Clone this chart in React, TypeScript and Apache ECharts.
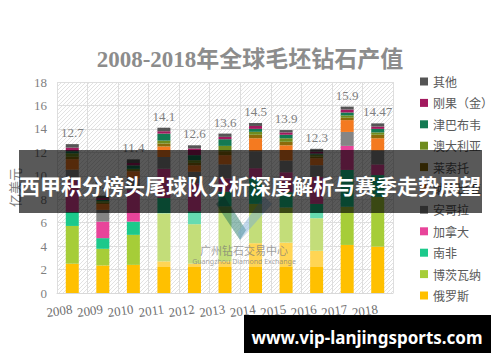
import React, { useEffect, useRef } from "react";
import * as echarts from "echarts";

const years = ["2008", "2009", "2010", "2011", "2012", "2013", "2014", "2015", "2016", "2017", "2018"];
const totals = ["12.7", "8.3", "11.4", "14.1", "12.6", "13.6", "14.5", "13.9", "12.3", "15.9", "14.47"];

const russia = [2.5, 2.35, 2.4, 2.7, 2.5, 2.7, 4.25, 4.3, 3.6, 4.1, 3.96];
const botswana = [3.22, 1.42, 2.56, 4.1, 3.37, 4.7, 3.35, 3.0, 2.78, 3.26, 4.24];
const southAfrica = [1.2, 0.91, 1.13, 1.3, 1.1, 1.24, 2.2, 1.3, 1.22, 3.14, 1.86];
const canada = [2.7, 1.41, 2.7, 2.5, 2.38, 1.14, 0.85, 1.7, 2.3, 2.05, 0.91];
const angola = [0.9, 1.0, 1.0, 1.0, 0.99, 1.19, 1.45, 1.0, 1.0, 1.19, 1.18];
const namibia = [0.9, 0.5, 0.6, 0.9, 0.56, 0.79, 1.1, 1.3, 0.6, 1.01, 1.05];
const lesotho = [0.2, 0.1, 0.1, 0.25, 0.2, 0.34, 0.3, 0.3, 0.15, 0.2, 0.3];
const australia = [0.3, 0.15, 0.1, 0.25, 0.23, 0.45, 0.25, 0.3, 0.15, 0.2, 0.2];
const zimbabwe = [0.18, 0.1, 0.3, 0.6, 0.43, 0.57, 0.25, 0.3, 0.1, 0.25, 0.3];
const drc = [0.3, 0.16, 0.2, 0.2, 0.57, 0.2, 0.25, 0.2, 0.15, 0.25, 0.2];
const other = [0.3, 0.2, 0.31, 0.3, 0.27, 0.28, 0.25, 0.2, 0.25, 0.25, 0.27];

const yTicks = { min: 0, max: 18, interval: 2 };

const seriesDefs = [
  { name: "俄罗斯", data: russia, color: "#FFC000" },
  { name: "博茨瓦纳", data: botswana, color: "#A6CD38" },
  { name: "南非", data: southAfrica, color: "#1CC98B" },
  { name: "加拿大", data: canada, color: "#E8449A" },
  { name: "安哥拉", data: angola, color: "#858585" },
  { name: "纳米比亚", data: namibia, color: "#F47A20" },
  { name: "莱索托", data: lesotho, color: "#8B6B0A" },
  { name: "澳大利亚", data: australia, color: "#6F8C1E" },
  { name: "津巴布韦", data: zimbabwe, color: "#137A52" },
  { name: "刚果（金）", data: drc, color: "#A2195E" },
  { name: "其他", data: other, color: "#555555" },
];

const title = "2008-2018年全球毛坯钻石产值";
const bannerText = "西甲积分榜头尾球队分析深度解析与赛季走势展望";
const footerText = "www.vip-lanjingsports.com";
const yName = "亿美元";

export default function App() {
  const ref = useRef<HTMLDivElement>(null);
  useEffect(() => {
    if (!ref.current) return;
    const chart = echarts.init(ref.current, null, { renderer: "svg" });

    const cv = document.createElement("canvas");
    cv.width = 4;
    cv.height = 4;
    const ctx = cv.getContext("2d");
    if (ctx) {
      ctx.fillStyle = "#ffffff";
      ctx.fillRect(0, 0, 4, 4);
      ctx.strokeStyle = "#e2e2e2";
      ctx.lineWidth = 1;
      ctx.beginPath();
      ctx.moveTo(0, 4);
      ctx.lineTo(4, 0);
      ctx.stroke();
    }

    const serif = "'Liberation Serif', 'Noto Sans CJK SC', serif";
    const series: any[] = seriesDefs.map((s, i) => ({
      name: s.name,
      type: "bar",
      stack: "total",
      barWidth: 13,
      data: s.data,
      itemStyle: { color: s.color },
      label:
        i === seriesDefs.length - 1
          ? {
              show: true,
              position: "top",
              distance: 5,
              fontFamily: serif,
              fontSize: 13,
              color: "#7f7f7f",
              formatter: (p: any) => totals[p.dataIndex],
            }
          : { show: false },
    }));

    chart.setOption({
      animation: false,
      backgroundColor: "#ffffff",
      title: {
        text: title,
        left: "center",
        top: 43,
        textStyle: { fontFamily: serif, fontSize: 23, fontWeight: "bold", color: "#8c8c8c" },
      },
      legend: {
        orient: "vertical",
        left: 415,
        top: 70,
        itemWidth: 8,
        itemHeight: 8,
        itemGap: 8.4,
        icon: "rect",
        data: seriesDefs.map((s) => s.name).reverse(),
        textStyle: { fontFamily: "'Noto Sans CJK SC', sans-serif", fontSize: 12, color: "#595959", lineHeight: 13 },
        selectedMode: false,
      },
      grid: {
        left: 57,
        right: 107,
        top: 82,
        bottom: 69,
        show: true,
        borderWidth: 0,
        backgroundColor: { image: cv, repeat: "repeat" },
      },
      xAxis: {
        type: "category",
        data: years,
        axisTick: { show: false },
        axisLine: { lineStyle: { color: "#d9d9d9" } },
        splitLine: { show: true, interval: 0, lineStyle: { color: "#dedede" } },
        axisLabel: { interval: 0, rotate: 8, margin: 16, fontFamily: serif, fontSize: 13, color: "#6f6f6f" },
      },
      yAxis: {
        type: "value",
        ...yTicks,
        name: yName,
        nameLocation: "middle",
        nameGap: 35,
        nameRotate: 90,
        nameTextStyle: { fontFamily: serif, fontSize: 13, color: "#7f7f7f" },
        axisLine: { show: false },
        axisTick: { show: false },
        splitLine: { lineStyle: { color: "#dedede" } },
        axisLabel: { margin: 10, fontFamily: serif, fontSize: 13, color: "#7f7f7f" },
      },
      series,
      graphic: [
        {
          type: "rect",
          z: 100,
          shape: { x: 150, y: 213, width: 175, height: 54 },
          style: { fill: "rgba(255,255,255,0.33)" },
        },
        {
          type: "polygon",
          z: 101,
          shape: { points: [[216, 204], [224, 196], [246, 230], [240, 240]] },
          style: { fill: "rgba(20,110,90,0.45)" },
        },
        {
          type: "polygon",
          z: 101,
          shape: { points: [[264, 196], [272, 204], [240, 240], [238, 232]] },
          style: { fill: "rgba(120,170,215,0.45)" },
        },
        {
          type: "text",
          z: 101,
          x: 244,
          y: 250,
          style: {
            text: "广州钻石交易中心",
            fontFamily: "'Noto Sans CJK SC', sans-serif",
            fontSize: 11,
            fill: "rgba(120,120,120,0.7)",
            align: "center",
            verticalAlign: "middle",
          },
        },
        {
          type: "text",
          z: 101,
          x: 244,
          y: 261,
          style: {
            text: "Guangzhou Diamond Exchange",
            fontFamily: "'Noto Sans', sans-serif",
            fontSize: 7,
            fill: "rgba(120,120,120,0.7)",
            align: "center",
            verticalAlign: "middle",
          },
        },
        {
          type: "rect",
          z: 200,
          shape: { x: 19, y: 150, width: 463, height: 63 },
          style: { fill: "rgba(0,0,0,0.65)" },
        },
        {
          type: "text",
          z: 201,
          x: 250,
          y: 185,
          style: {
            text: bannerText,
            fontFamily: "'Noto Sans CJK SC', sans-serif",
            fontWeight: "bold",
            fontSize: 21,
            fill: "#ffffff",
            align: "center",
            verticalAlign: "middle",
          },
        },
        {
          type: "rect",
          z: 200,
          shape: { x: 244, y: 315, width: 247, height: 38 },
          style: { fill: "#000000" },
        },
        {
          type: "text",
          z: 201,
          x: 367,
          y: 337,
          style: {
            text: footerText,
            fontFamily: "'Noto Sans', sans-serif",
            fontWeight: "bold",
            fontSize: 17,
            fill: "#ffffff",
            align: "center",
            verticalAlign: "middle",
          },
        },
      ],
    });
    return () => chart.dispose();
  }, []);
  return <div ref={ref} style={{ position: "absolute", left: 0, top: 0, width: 500, height: 362 }} />;
}
